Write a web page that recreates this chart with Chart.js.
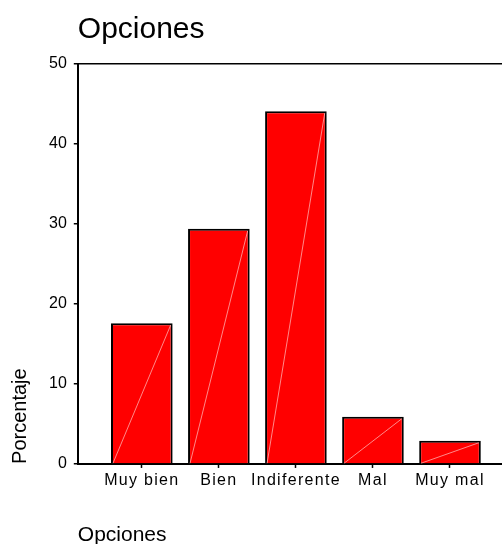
<!DOCTYPE html>
<html>
<head>
<meta charset="utf-8">
<script src="https://cdn.jsdelivr.net/npm/chart.js@4"></script>
<style>
  html, body { margin: 0; padding: 0; background: #fff; }
  #caja { position: relative; width: 502px; height: 544px; }
</style>
</head>
<body>
<div id="caja"><canvas id="grafico"></canvas></div>
<script>
const categorias = ['Muy bien', 'Bien', 'Indiferente', 'Mal', 'Muy mal'];
const porcentajes = [17.6, 29.4, 44.1, 5.9, 2.9];
const ticksY = [0, 10, 20, 30, 40, 50];

// linea clara en diagonal dentro de cada barra, como en el original
const diagonales = {
  id: 'diagonales',
  afterDatasetsDraw(chart) {
    const ctx = chart.ctx;
    ctx.save();
    ctx.strokeStyle = 'rgba(255,215,215,0.8)';
    ctx.lineWidth = 0.8;
    chart.getDatasetMeta(0).data.forEach(barra => {
      const { x, y, base, width } = barra.getProps(['x', 'y', 'base', 'width'], true);
      ctx.beginPath();
      ctx.moveTo(x - width / 2 + 2, base);
      ctx.lineTo(x + width / 2 - 2, y + 2);
      ctx.stroke();
    });
    ctx.restore();
    // etiquetas del eje x algo espaciadas
    ctx.letterSpacing = '1.3px';
  },
  afterDraw(chart) {
    chart.ctx.letterSpacing = '0px';
  }
};

const ctx = document.getElementById('grafico').getContext('2d');

const chart = new Chart(ctx, {
  type: 'bar',
  data: {
    datasets: [{
      label: 'Opciones',
      data: porcentajes.map((v, i) => ({ x: i, y: v })),
      backgroundColor: '#ff0000',
      borderColor: '#000000',
      borderWidth: 2,
      borderSkipped: 'start',
      barPercentage: 0.8,
      categoryPercentage: 1
    }]
  },
  plugins: [diagonales],
  options: {
    responsive: true,
    maintainAspectRatio: false,
    animation: false,
    layout: { padding: 0 },
    plugins: {
      legend: { display: false },
      tooltip: { enabled: false },
      title: {
        display: true,
        text: 'Opciones',
        align: 'start',
        fullSize: false,
        color: '#000',
        font: { family: 'Liberation Sans, Arial', size: 30, weight: 'normal', lineHeight: 1.2 },
        padding: { top: 12, bottom: 16 }
      }
    },
    scales: {
      x: {
        type: 'linear',
        offset: false,
        min: -0.831,
        max: 4.675,
        afterBuildTicks: eje => { eje.ticks = categorias.map((c, i) => ({ value: i })); },
        grid: {
          offset: false,
          color: 'transparent',
          tickColor: '#000',
          tickLength: 4,
          tickWidth: 1.5,
          drawOnChartArea: false
        },
        border: { color: '#000', width: 2 },
        ticks: {
          z: 1,
          color: '#000',
          padding: 3,
          maxRotation: 0,
          autoSkip: false,
          font: { family: 'Liberation Sans, Arial', size: 16 },
          callback: v => categorias[v]
        },
        title: {
          display: true,
          text: 'Opciones',
          align: 'start',
          color: '#000',
          font: { family: 'Liberation Sans, Arial', size: 21, lineHeight: 0.85 },
          padding: { top: 33, bottom: 0 }
        }
      },
      y: {
        min: 0,
        max: 50,
        afterBuildTicks: eje => { eje.ticks = ticksY.map(v => ({ value: v })); },
        grid: {
          color: c => (c.tick && c.tick.value === 50 ? '#000' : 'transparent'),
          lineWidth: 1.5,
          tickColor: '#000',
          tickLength: 4,
          tickWidth: 1.5
        },
        border: { color: '#000', width: 2 },
        ticks: {
          color: '#000',
          padding: 7,
          font: { family: 'Liberation Sans, Arial', size: 16 }
        },
        title: {
          display: true,
          text: 'Porcentaje',
          align: 'start',
          color: '#000',
          font: { family: 'Liberation Sans, Arial', size: 20, lineHeight: 1 },
          padding: { top: 10, bottom: 12 }
        }
      }
    }
  }
});
</script>
</body>
</html>
